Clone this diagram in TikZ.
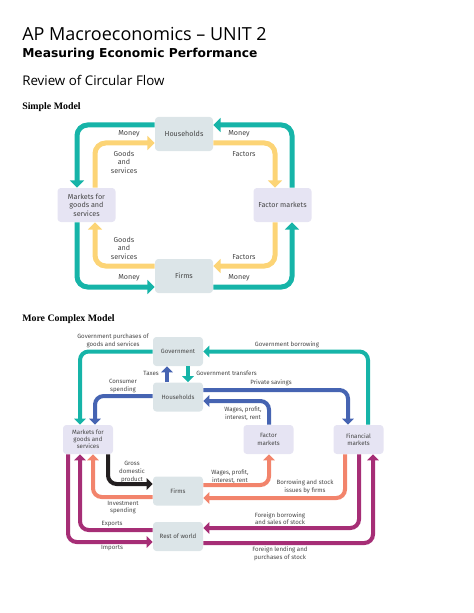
\documentclass[tikz,border=0pt]{standalone}
\usepackage{fontspec}
\setmainfont{Open Sans}
\newfontfamily\headbold{DejaVu Sans}
\newfontfamily\timesfont{Liberation Serif}
\newfontfamily\diagfont{Fira Sans}
\usetikzlibrary{arrows.meta}

\definecolor{flowteal}{RGB}{22,180,168}
\definecolor{flowyellow}{RGB}{252,212,118}
\definecolor{flowblue}{RGB}{70,100,178}
\definecolor{flowsalmon}{RGB}{242,132,108}
\definecolor{flowmagenta}{RGB}{166,46,118}
\definecolor{flowblack}{RGB}{35,31,32}
\definecolor{boxgray}{RGB}{220,229,232}
\definecolor{boxlilac}{RGB}{230,228,243}
\definecolor{labelgray}{RGB}{70,70,70}

\tikzset{
  sector/.style={fill=boxgray, rounded corners=2.5pt, align=center,
    text=labelgray, inner sep=0pt},
  market/.style={sector, fill=boxlilac},
  bigbox/.style={minimum width=43.5pt, minimum height=25.5pt,
    font=\diagfont\fontsize{5.4}{6.4}\selectfont},
  smallbox/.style={minimum width=37.5pt, minimum height=21.75pt,
    font=\diagfont\fontsize{4.6}{5.4}\selectfont},
  biglbl/.style={text=labelgray, align=center, inner sep=0pt,
    font=\diagfont\fontsize{5.4}{6.4}\selectfont},
  smalllbl/.style={text=labelgray, align=center, inner sep=0pt,
    font=\diagfont\fontsize{4.6}{5.7}\selectfont},
  bigflow/.style={line width=3.75pt, rounded corners=8pt,
    -{Triangle[length=5.5pt,width=10.5pt]}},
  smallflow/.style={line width=3pt, rounded corners=6.5pt,
    -{Triangle[length=4.5pt,width=8.5pt]}}
}

\begin{document}
\begin{tikzpicture}[x=0.75pt, y=-0.75pt]
    \useasboundingbox (0,0) rectangle (474,613);

    % Headings
    \node[anchor=base west, inner sep=0pt, font=\fontsize{13.5}{16}\selectfont]
      (title) at (22,41) {AP Macroeconomics -- UNIT 2};
    \node[anchor=base west, inner sep=0pt, font=\headbold\bfseries\fontsize{9.2}{11}\selectfont]
      (subtitle) at (22,58) {Measuring Economic Performance};
    \node[anchor=base west, inner sep=0pt, font=\fontsize{10}{12}\selectfont]
      (review) at (22,86) {Review of Circular Flow};
    \node[anchor=base west, inner sep=0pt, font=\timesfont\bfseries\fontsize{7.4}{9}\selectfont]
      (simple) at (22,109.5) {Simple Model};
    \node[anchor=base west, inner sep=0pt, font=\timesfont\bfseries\fontsize{7.4}{9}\selectfont]
      (complex) at (22,321.5) {More Complex Model};

    % Simple model
    \node[sector, bigbox] (hh) at (184,134) {Households};
    \node[sector, bigbox] (fi) at (184,276) {Firms};
    \node[market, bigbox] (mk) at (86.5,205) {Markets for\\goods and\\services};
    \node[market, bigbox] (fm) at (282.5,205) {Factor markets};

    \draw[bigflow, flowyellow] (mk.north -| 95,0) |- (hh.west |- 0,143);
    \draw[bigflow, flowyellow] (hh.east |- 0,143) -| (fm.north -| 275,0);
    \draw[bigflow, flowyellow] (fm.south -| 275,0) |- (fi.east |- 0,266);
    \draw[bigflow, flowyellow] (fi.west |- 0,266) -| (mk.south -| 95,0);
    \draw[bigflow, flowteal] (hh.west |- 0,125) -| (mk.north -| 77,0);
    \draw[bigflow, flowteal] (fm.north -| 292,0) |- (hh.east |- 0,125);
    \draw[bigflow, flowteal] (mk.south -| 77,0) |- (fi.west |- 0,287);
    \draw[bigflow, flowteal] (fi.east |- 0,287) -| (fm.south -| 292,0);

    \node[biglbl] (s-money1) at (129,134) {Money};
    \node[biglbl] (s-goods1) at (124,162) {Goods\\and\\services};
    \node[biglbl] (s-money2) at (239,134) {Money};
    \node[biglbl] (s-factors1) at (244,154) {Factors};
    \node[biglbl] (s-goods2) at (124,248) {Goods\\and\\services};
    \node[biglbl] (s-factors2) at (244,257) {Factors};
    \node[biglbl] (s-money3) at (129,278) {Money};
    \node[biglbl] (s-money4) at (239,278) {Money};

    % More complex model
    \node[sector, smallbox] (gov) at (178,351.5) {Government};
    \node[sector, smallbox] (hh2) at (178,397) {Households};
    \node[sector, smallbox] (firm) at (178,491) {Firms};
    \node[sector, smallbox] (row) at (178,536.5) {Rest of world};
    \node[market, smallbox] (mkt) at (88,439.5) {Markets for\\goods and\\services};
    \node[market, smallbox] (fac) at (268.5,439.5) {Factor\\markets};
    \node[market, smallbox] (fin) at (358.5,439.5) {Financial\\markets};

    \draw[smallflow, flowteal] (gov.west) -| (mkt.north -| 80,0);
    \draw[smallflow, flowteal] (fin.north -| 368,0) |- (gov.east);
    \draw[smallflow, flowblue] (hh2.north -| 167,0) -- (gov.south -| 167,0);
    \draw[smallflow, flowteal] (gov.south -| 188,0) -- (hh2.north -| 188,0);
    \draw[smallflow, flowblue] (hh2.west |- 0,396) -| (mkt.north -| 95,0);
    \draw[smallflow, flowblue] (hh2.east |- 0,390) -| (fin.north -| 348,0);
    \draw[smallflow, flowblue] (fac.north -| 269,0) |- (hh2.east |- 0,401);
    \draw[smallflow, flowblack] (mkt.south -| 108,0) |- (firm.west |- 0,484);
    \draw[smallflow, flowsalmon] (firm.west |- 0,497) -| (mkt.south -| 93,0);
    \draw[smallflow, flowsalmon] (firm.east |- 0,485) -| (fac.south -| 269,0);
    \draw[smallflow, flowsalmon] (fin.south -| 345,0) |- (firm.east |- 0,498);
    \draw[smallflow, flowmagenta] (row.west |- 0,530) -| (mkt.south -| 80,0);
    \draw[smallflow, flowmagenta] (mkt.south -| 68,0) |- (row.west |- 0,542);
    \draw[smallflow, flowmagenta] (fin.south -| 359,0) |- (row.east |- 0,528);
    \draw[smallflow, flowmagenta] (row.east |- 0,543) -| (fin.south -| 373,0);

    \node[smalllbl] (c-govpur) at (113,341) {Government purchases of\\goods and services};
    \node[smalllbl] (c-govbor) at (287,345) {Government borrowing};
    \node[smalllbl, anchor=east] (c-taxes) at (159,373) {Taxes};
    \node[smalllbl, anchor=west] (c-transfers) at (196,373) {Government transfers};
    \node[smalllbl] (c-consumer) at (123,386) {Consumer\\spending};
    \node[smalllbl] (c-savings) at (271,383) {Private savings};
    \node[smalllbl] (c-wages1) at (243,414) {Wages, profit,\\interest, rent};
    \node[smalllbl] (c-gdp) at (132,472) {Gross\\domestic\\product};
    \node[smalllbl] (c-wages2) at (230,476.5) {Wages, profit,\\interest, rent};
    \node[smalllbl] (c-borrow) at (305,487) {Borrowing and stock\\issues by firms};
    \node[smalllbl] (c-invest) at (123,507.5) {Investment\\spending};
    \node[smalllbl] (c-exports) at (112,524) {Exports};
    \node[smalllbl] (c-forbor) at (280,518.5) {Foreign borrowing\\and sales of stock};
    \node[smalllbl] (c-imports) at (112,548.5) {Imports};
    \node[smalllbl] (c-forlend) at (280,553.5) {Foreign lending and\\purchases of stock};
\end{tikzpicture}
\end{document}
